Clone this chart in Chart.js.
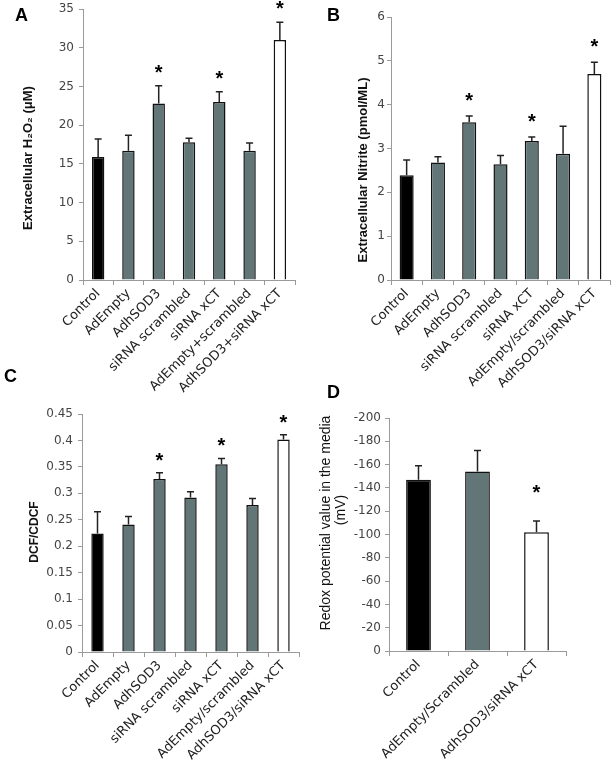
<!DOCTYPE html>
<html>
<head>
<meta charset="utf-8">
<script src="https://cdn.jsdelivr.net/npm/chart.js@4.4.0/dist/chart.umd.min.js"></script>
<style>
  html, body { margin: 0; padding: 0; background: #fff; }
  #page { position: relative; width: 611px; height: 770px; overflow: hidden; }
  canvas { position: absolute; }
  .letter { position: absolute; font: bold 18px 'Liberation Sans', Arial, sans-serif; line-height: 1; color: #000; }
</style>
</head>
<body>
<div id="page">
  <canvas id="chartA" width="305" height="400" style="left:0;top:0"></canvas>
  <canvas id="chartB" width="306" height="400" style="left:305px;top:0"></canvas>
  <canvas id="chartC" width="305" height="390" style="left:0;top:380px"></canvas>
  <canvas id="chartD" width="306" height="390" style="left:305px;top:380px"></canvas>
  <div class="letter" style="left:15px;top:6px">A</div>
  <div class="letter" style="left:327px;top:6px">B</div>
  <div class="letter" style="left:4px;top:367px">C</div>
  <div class="letter" style="left:327px;top:383px">D</div>
</div>
<script>
// panel A - extracellular H2O2
const labelsA = ['Control', 'AdEmpty', 'AdhSOD3', 'siRNA scrambled', 'siRNA xCT', 'AdEmpty+scrambled', 'AdhSOD3+siRNA xCT'];
const valuesA = [15.9, 16.7, 22.8, 17.8, 23.0, 16.7, 31.0];
const errA = [2.3, 2.0, 2.3, 0.5, 1.3, 1.0, 2.3];
const sigA = [false, false, true, false, true, false, true];
const ticksA = { min: 0, max: 35, step: 5 };

// panel B - extracellular nitrite
const labelsB = ['Control', 'AdEmpty', 'AdhSOD3', 'siRNA scrambled', 'siRNA xCT', 'AdEmpty/scrambled', 'AdhSOD3/siRNA xCT'];
const valuesB = [2.39, 2.68, 3.60, 2.64, 3.17, 2.88, 4.70];
const errB = [0.35, 0.13, 0.14, 0.20, 0.09, 0.63, 0.27];
const sigB = [false, false, true, false, true, false, true];
const ticksB = { min: 0, max: 6, step: 1 };

// panel C - DCF/CDCF
const labelsC = ['Control', 'AdEmpty', 'AdhSOD3', 'siRNA scrambled', 'siRNA xCT', 'AdEmpty/scrambled', 'AdhSOD3/siRNA xCT'];
const valuesC = [0.224, 0.241, 0.327, 0.292, 0.355, 0.278, 0.402];
const errC = [0.041, 0.015, 0.012, 0.011, 0.011, 0.012, 0.009];
const sigC = [false, false, true, false, true, false, true];
const ticksC = { min: 0, max: 0.45, step: 0.05 };

// panel D - redox potential
const labelsD = ['Control', 'AdEmpty/Scrambled', 'AdhSOD3/siRNA xCT'];
const valuesD = [-147, -154, -102];
const errD = [12, 18, 9.5];
const sigD = [false, false, true];
const ticksD = { min: -200, max: 0, step: 20 };

const FONT = "'Liberation Sans', Arial, sans-serif";
const WIDE = "'DejaVu Sans', sans-serif";
const BLACK = '#000000';
const GRAY = '#627577';
const WHITE = '#ffffff';
const AXIS = '#9a9a9a';

function barColors(n) {
    // first bar black, last white, the rest slate gray
    return Array.from({ length: n }, (_, i) => i === 0 ? BLACK : (i === n - 1 ? WHITE : GRAY));
}

// error bars (one direction only) and significance stars
const errorBars = {
    id: 'errorBars',
    afterDatasetsDraw(chart, args, opts) {
        const ctx = chart.ctx;
        const yScale = chart.scales.y;
        const ds = chart.data.datasets[0];
        const meta = chart.getDatasetMeta(0);
        ctx.save();
        meta.data.forEach((bar, i) => {
            const v = ds.data[i];
            const top = yScale.getPixelForValue(v + Math.sign(v) * ds.err[i]);
            ctx.strokeStyle = '#222';
            ctx.lineWidth = 1.5;
            ctx.beginPath();
            ctx.moveTo(bar.x, bar.y);
            ctx.lineTo(bar.x, top);
            ctx.moveTo(bar.x - 3.5, top);
            ctx.lineTo(bar.x + 3.5, top);
            ctx.stroke();
            if (ds.sig[i]) {
                ctx.fillStyle = '#000';
                ctx.font = 'bold 20px ' + FONT;
                ctx.textAlign = 'center';
                ctx.textBaseline = 'alphabetic';
                ctx.fillText('*', bar.x, top - opts.starGap + 11);
            }
        });
        ctx.restore();
    }
};

// rotated y axis title(s)
const yTitle = {
    id: 'yTitle',
    afterDraw(chart, args, opts) {
        const ctx = chart.ctx;
        opts.lines.forEach(l => {
            ctx.save();
            ctx.translate(l.x, l.y);
            ctx.rotate(-Math.PI / 2);
            ctx.font = l.font;
            ctx.fillStyle = '#111';
            ctx.textAlign = 'center';
            ctx.textBaseline = 'middle';
            ctx.fillText(l.text, 0, 0);
            ctx.restore();
        });
    }
};

function makePanel(id, labels, values, errs, sig, range, box, extra) {
    const canvas = document.getElementById(id);
    return new Chart(canvas.getContext('2d'), {
        type: 'bar',
        data: {
            labels: labels,
            datasets: [{
                data: values,
                err: errs,
                sig: sig,
                backgroundColor: barColors(values.length),
                borderColor: '#111',
                borderWidth: 1.5,
                barPercentage: extra.barPct,
                categoryPercentage: 1
            }]
        },
        options: {
            responsive: false,
            animation: false,
            devicePixelRatio: 1,
            layout: {
                padding: { left: 0, top: box.top, right: canvas.width - box.right, bottom: 0 }
            },
            plugins: {
                legend: { display: false },
                tooltip: { enabled: false },
                errorBars: { starGap: extra.starGap },
                yTitle: { lines: extra.titles }
            },
            scales: {
                x: {
                    grid: { display: true, drawOnChartArea: false, tickLength: 5, color: AXIS },
                    border: { color: AXIS, width: 1 },
                    ticks: {
                        autoSkip: false,
                        maxRotation: 45,
                        minRotation: 45,
                        padding: 1,
                        color: '#222',
                        font: { family: WIDE, size: 13 }
                    },
                    afterFit: (s) => {
                        s.height = canvas.height - box.bottom;
                        s.paddingLeft = 0;
                        s.paddingRight = 0;
                    }
                },
                y: {
                    min: range.min,
                    max: range.max,
                    reverse: !!extra.reverse,
                    grid: { display: true, drawOnChartArea: false, tickLength: 4, color: AXIS },
                    border: { color: AXIS, width: 1 },
                    ticks: {
                        stepSize: range.step,
                        padding: extra.tickPad,
                        color: '#444',
                        font: { family: WIDE, size: 12 },
                        callback: (v) => String(Number(v.toFixed(2)))
                    },
                    afterFit: (s) => {
                        s.width = box.left;
                        s.paddingTop = 0;
                        s.paddingBottom = 0;
                    }
                }
            }
        },
        plugins: [errorBars, yTitle]
    });
}

makePanel('chartA', labelsA, valuesA, errA, sigA, ticksA,
    { left: 83, right: 295, top: 9, bottom: 280 },
    { barPct: 0.41, starGap: 18, tickPad: 5,
      titles: [{ text: 'Extracellular H\u2082O\u2082 (\u03bcM)', x: 28, y: 158, font: 'bold 13px ' + FONT }] });

makePanel('chartB', labelsB, valuesB, errB, sigB, ticksB,
    { left: 86, right: 305, top: 17, bottom: 280 },
    { barPct: 0.45, starGap: 20, tickPad: 2,
      titles: [{ text: 'Extracellular Nitrite (pmol/ML)', x: 58, y: 170, font: 'bold 13px ' + FONT }] });

makePanel('chartC', labelsC, valuesC, errC, sigC, ticksC,
    { left: 82, right: 299, top: 34, bottom: 272 },
    { barPct: 0.40, starGap: 17, tickPad: 5,
      titles: [{ text: 'DCF/CDCF', x: 35, y: 152, font: 'bold 12px ' + FONT }] });

makePanel('chartD', labelsD, valuesD, errD, sigD, ticksD,
    { left: 84, right: 261, top: 38, bottom: 271 },
    { barPct: 0.42, starGap: 33, tickPad: 4, reverse: true,
      titles: [
          { text: 'Redox potential value in the media', x: 21, y: 143, font: '14px ' + FONT },
          { text: '(mV)', x: 36, y: 130, font: '14px ' + FONT }
      ] });
</script>
</body>
</html>
